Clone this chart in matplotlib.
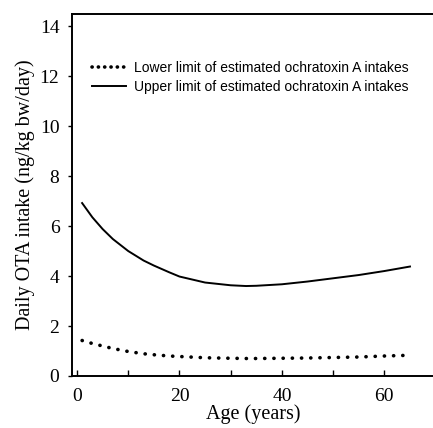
import matplotlib
matplotlib.use("Agg")
import matplotlib.pyplot as plt
from matplotlib.lines import Line2D

# values
age = [1, 3, 5, 7, 10, 13, 15, 18, 20, 25, 30, 33, 35, 40, 45, 50, 55, 60, 65]
upper = [6.92, 6.35, 5.88, 5.48, 5.0, 4.62, 4.42, 4.15, 3.98, 3.74, 3.63, 3.60, 3.61, 3.67, 3.78, 3.91, 4.04, 4.2, 4.38]
lower = [1.42, 1.3, 1.2, 1.1, 0.98, 0.89, 0.85, 0.8, 0.78, 0.73, 0.71, 0.70, 0.70, 0.71, 0.72, 0.74, 0.76, 0.8, 0.83]

labels = ["Lower limit of estimated ochratoxin A intakes",
          "Upper limit of estimated ochratoxin A intakes"]

serif = "Liberation Serif"
sans = "Liberation Sans"

fig = plt.figure(figsize=(4.33, 4.28), dpi=100)
ax = fig.add_axes([0.166, 0.1215, 0.84, 0.8455])

ax.plot(age, lower, color="black", linewidth=2.6, linestyle=(0, (0.05, 2.5)),
        dash_capstyle="round")
ax.plot(age, upper, color="black", linewidth=1.4)

ax.set_xlim(-1, 70)
ax.set_ylim(0, 14.48)
ax.set_xticks([0, 20, 40, 60])
ax.set_xticks([10, 30, 50], minor=True)
ax.set_yticks(range(0, 15, 2))

ax.tick_params(axis="x", which="both", direction="in", length=4, width=1, pad=9)
ax.tick_params(axis="y", direction="out", length=3, width=1, pad=6)
for t in ax.get_xticklabels() + ax.get_yticklabels():
    t.set_fontfamily(serif)
    t.set_fontsize(14)

for s in ax.spines.values():
    s.set_linewidth(1.4)

ax.set_xlabel("Age (years)", fontfamily=serif, fontsize=14.5, labelpad=-1)
ax.set_ylabel("Daily OTA intake (ng/kg bw/day)", fontfamily=serif, fontsize=14.5, labelpad=3)

handles = [Line2D([], [], color="black", linewidth=2.6, linestyle=(0, (0.05, 1.7)),
                  dash_capstyle="round"),
           Line2D([], [], color="black", linewidth=1.4)]
ax.legend(handles, labels, loc="upper left", bbox_to_anchor=(0.02, 0.905), frameon=False,
          prop={"family": sans, "size": 10}, handlelength=2.5,
          handletextpad=0.55, labelspacing=0.35)

fig.savefig("out.png", dpi=100)
